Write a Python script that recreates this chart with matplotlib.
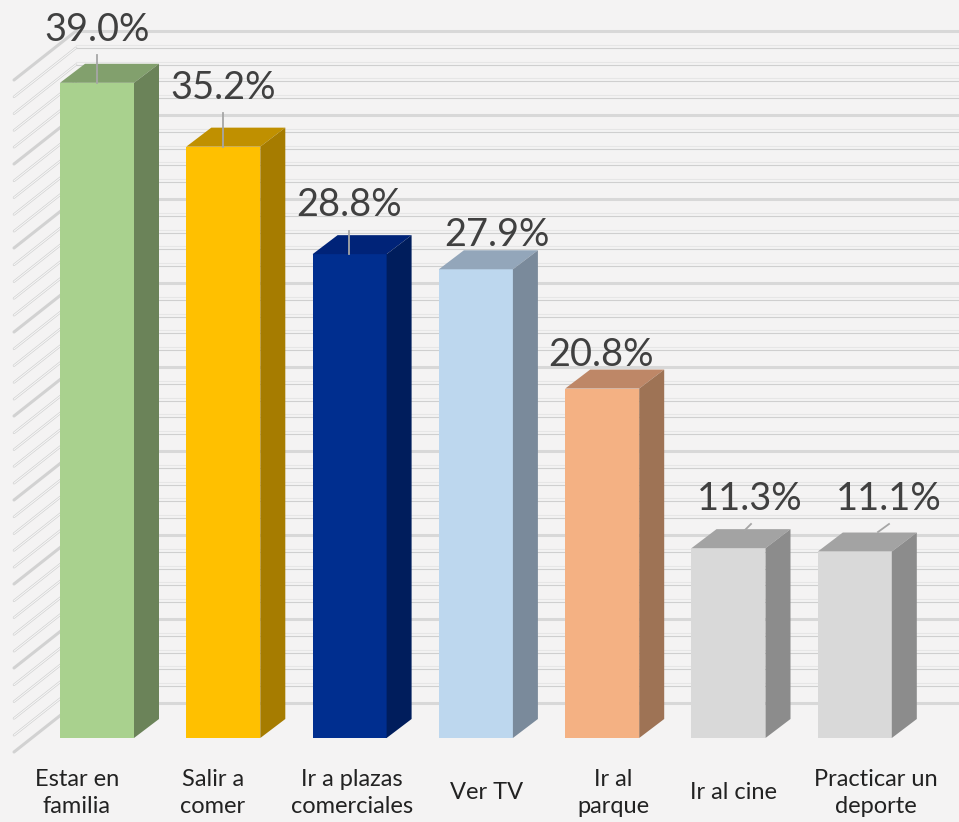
import matplotlib
matplotlib.use('Agg')
import matplotlib.pyplot as plt

categories = ['Estar en\nfamilia', 'Salir a\ncomer', 'Ir a plazas\ncomerciales', 'Ver TV',
              'Ir al\nparque', 'Ir al cine', 'Practicar un\ndeporte']
values = [39.0, 35.2, 28.8, 27.9, 20.8, 11.3, 11.1]

front_colors = ['#A9D18E', '#FFC000', '#002E8F', '#BDD7EE', '#F4B183', '#D9D9D9', '#D9D9D9']
top_colors = ['#82A06D', '#C09000', '#002378', '#93A6BA', '#BE8767', '#A3A3A3', '#A3A3A3']
side_colors = ['#6B8359', '#A67C00', '#001D5C', '#7A8A9B', '#9E7355', '#8C8C8C', '#8C8C8C']

# figure pixels <-> data, bars sit 126.3 px apart and 1% is 16.8 px
PX_X0, PX_PER_CAT = 97, 126.3
PX_Y0, PX_PER_PCT = 738, 16.8


def x_px(px):
    return (px - PX_X0) / PX_PER_CAT


def y_px(px):
    return (PX_Y0 - px) / PX_PER_PCT


# layout of the labels, in figure pixels
label_xy = [(97, 30), (223, 88), (349, 205), (497, 235), (601, 355), (750, 499), (889, 499)]
cat_x = [77, 213, 352, 487, 613, 734, 876]
cat_y = [793, 793, 793, 792, 793, 792, 793]
leaders = {0: (97, 83, 97, 55), 1: (223, 147, 223, 113), 2: (349, 254, 349, 231),
           5: (745, 530, 751, 524), 6: (878, 532, 889, 524)}

BAR_W = 74 / PX_PER_CAT
DEPTH_X = 25 / PX_PER_CAT
DEPTH_Y = 19 / PX_PER_PCT

fig = plt.figure(figsize=(9.59, 8.22), dpi=100, facecolor='#F4F3F3')
ax = fig.add_axes([0, 0, 1, 1])
ax.set_facecolor('#F4F3F3')
ax.set_xlim(x_px(0), x_px(959))
ax.set_ylim(y_px(822), y_px(0))
ax.axis('off')

# back wall and left wall grid, one line per 1%, heavier every 5%
wall_front_x, wall_back_x = x_px(14), x_px(76)
wall_front_dy, wall_back_dy = -14 / PX_PER_PCT, 35 / PX_PER_PCT
for v in range(0, 41):
    major = v % 5 == 0
    y_back = v + wall_back_dy
    y_front = v + wall_front_dy
    if major:
        ax.plot([wall_back_x, x_px(959)], [y_back, y_back], color='#D8D8D8', lw=2.2, zorder=1)
        ax.plot([wall_front_x, wall_back_x], [y_front, y_back], color='#D2D2D2', lw=2.2,
                solid_capstyle='round', zorder=1)
    else:
        ax.plot([wall_back_x, x_px(959)], [y_back, y_back], color='#CFCFCF', lw=0.8, zorder=1)
        # the picture has a fainter twin just above each thin line
        ax.plot([wall_back_x, x_px(959)], [y_back + 3 / PX_PER_PCT] * 2, color='#E6E6E6',
                lw=0.8, zorder=1)
        ax.plot([wall_front_x, wall_back_x], [y_front, y_back], color='#D2D2D2', lw=1.8,
                solid_capstyle='round', zorder=1)
        ax.plot([wall_front_x, wall_back_x], [y_front, y_back], color='#F6F6F6', lw=0.8,
                solid_capstyle='round', zorder=1.1)

positions = list(range(len(values)))
ax.bar(positions, values, width=BAR_W, color=front_colors, zorder=3, linewidth=0)

for i, v in enumerate(values):
    left, right = i - BAR_W / 2, i + BAR_W / 2
    ax.fill([left, right, right + DEPTH_X, left + DEPTH_X],
            [v, v, v + DEPTH_Y, v + DEPTH_Y], color=top_colors[i], lw=0, zorder=3)
    ax.fill([right, right + DEPTH_X, right + DEPTH_X, right],
            [0, DEPTH_Y, v + DEPTH_Y, v], color=side_colors[i], lw=0, zorder=3)

for i, seg in leaders.items():
    ax.plot([x_px(seg[0]), x_px(seg[2])], [y_px(seg[1]), y_px(seg[3])],
            color='#A6A6A6', lw=1.3, zorder=4)

for i, v in enumerate(values):
    ax.text(x_px(label_xy[i][0]), y_px(label_xy[i][1]), '%.1f%%' % v, family='Lato',
            fontsize=27.4, color='#404040', ha='center', va='center', zorder=5)
    ax.text(x_px(cat_x[i]), y_px(cat_y[i]), categories[i], family='Lato', fontsize=17,
            color='#222222', ha='center', va='center', linespacing=1.4, zorder=5)

plt.savefig('out.png', dpi=100, facecolor=fig.get_facecolor())
